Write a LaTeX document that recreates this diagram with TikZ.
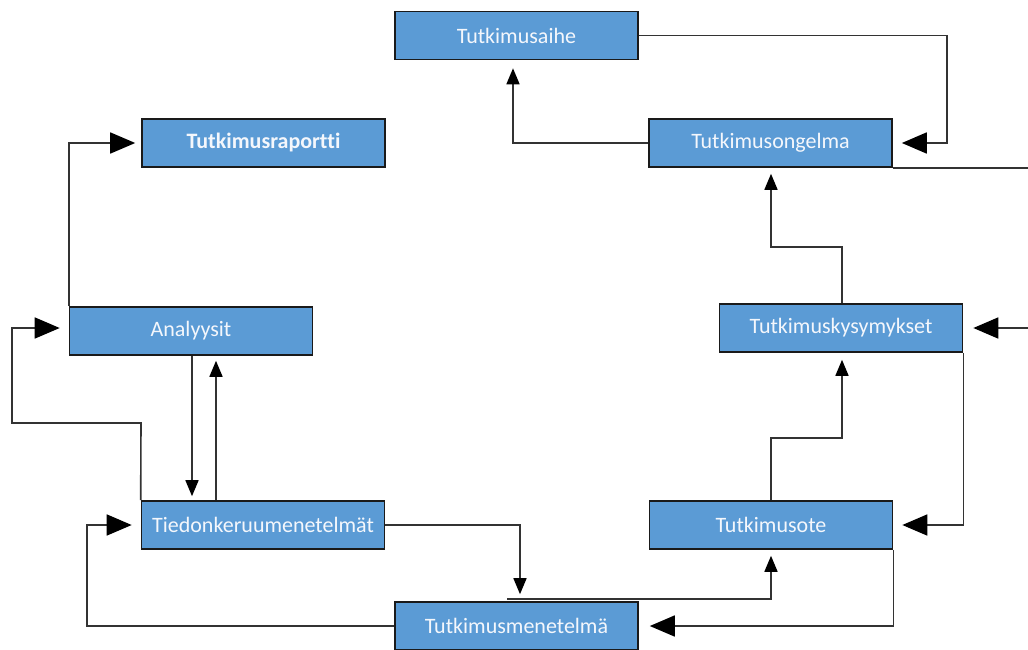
\documentclass[tikz,border=0pt]{standalone}
\usepackage{fontspec}
\setmainfont{Carlito}[Ligatures={NoCommon}]
\usetikzlibrary{arrows.meta,calc}
\definecolor{boxfill}{HTML}{5B9BD5}
\definecolor{boxline}{HTML}{1A1A1A}
\definecolor{connline}{HTML}{333333}
\definecolor{boxtext}{HTML}{F4F7FC}
\begin{document}
\begin{tikzpicture}[x=1pt,y=-1pt,
  box/.style={draw=boxline,fill=boxfill,line width=1.6pt,minimum width=243pt,minimum height=48pt,inner sep=0pt,text=boxtext,font=\fontsize{22}{26}\selectfont},
  conn/.style={draw=connline,line width=1.6pt},
  arrH/.style={conn,-{Triangle[length=25pt,width=21pt,color=black]}},
  arrV/.style={conn,-{Triangle[length=16pt,width=13pt,color=black]}}]
\useasboundingbox (0,0) rectangle (1028,650);
\node[box] (aihe) at (516.5,35.5) {Tutkimusaihe};
\node[box,font=\fontsize{22}{26}\selectfont\bfseries] (raportti) at (263.5,143) {Tutkimusraportti};
\node[box] (ongelma) at (770.5,143) {Tutkimusongelma};
\node[box] (analyysit) at (191,331) {Analyysit};
\node[box] (kysymykset) at (841,328) {Tutkimuskysymykset};
\node[box] (tiedon) at (263,525) {Tiedonkeruumenetelmät};
\node[box] (ote) at (771,525) {Tutkimusote};
\node[box] (menetelma) at (516.5,626) {Tutkimusmenetelmä};
\coordinate (offA) at (1028,0 |- ongelma.south east);
\coordinate (offB) at (1028,328);
% connectors
\draw[arrH,shorten >=9pt] (aihe.east) -| (947,0 |- ongelma.east) -- (ongelma.east);
\draw[arrV,shorten >=8pt] (ongelma.west) -| (513,0 |- aihe.south);
\draw[conn] (ongelma.south east) -- (offA);
\draw[arrV,shorten >=6pt] (842,0 |- kysymykset.north) -- (842,247) -| (771,0 |- ongelma.south);
\draw[arrH,shorten >=10pt] (offB) -- (kysymykset.east);
\draw[arrH,shorten >=9pt] (kysymykset.south east) |- (ote.east);
\draw[arrV,shorten >=7pt] (771,0 |- ote.north) -- (771,438) -| (842,0 |- kysymykset.south);
\draw[arrH,shorten >=11pt] (ote.south east) |- (menetelma.east);
\draw[arrV,shorten >=6pt] ($(507,0 |- menetelma.north)+(0,-2)$) -| (771,0 |- ote.south);
\draw[arrV,shorten >=7pt] (tiedon.east) -| (520,0 |- menetelma.north);
\draw[arrH,shorten >=9pt] (menetelma.west) -| (87,0 |- tiedon.west) -- (tiedon.west);
\draw[arrV,shorten >=4pt] (192,0 |- analyysit.south) -- (192,0 |- tiedon.north);
\draw[arrV,shorten >=5pt] (216,0 |- tiedon.north) -- (216,0 |- analyysit.south);
\draw[arrH,shorten >=9pt] (tiedon.north west) -- (141,423) -- (12,423) -- (12,328) -- (analyysit.west |- 0,328);
\draw[arrH,shorten >=6pt] (analyysit.north west) |- (raportti.west);
\end{tikzpicture}
\end{document}
